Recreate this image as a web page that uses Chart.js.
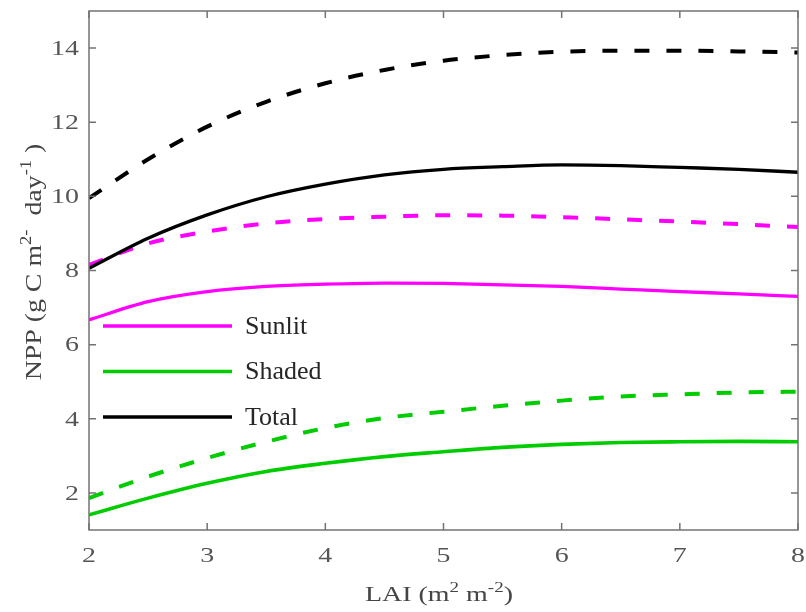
<!DOCTYPE html>
<html><head><meta charset="utf-8">
<script src="https://cdn.jsdelivr.net/npm/chart.js@4.4.1/dist/chart.umd.min.js"></script>
<style>html,body{margin:0;padding:0;background:#fff}#wrap{width:806px;height:612px;position:relative}</style>
</head><body><div id="wrap"><canvas id="c" width="806" height="612"></canvas></div>
<script>
const lai = [2, 2.5, 3, 3.5, 4, 4.5, 5, 5.5, 6, 6.5, 7, 7.5, 8];
const sunlitSolid  = [6.67, 7.16, 7.43, 7.57, 7.63, 7.66, 7.65, 7.61, 7.57, 7.50, 7.43, 7.37, 7.30];
const sunlitDashed = [8.15, 8.73, 9.05, 9.27, 9.39, 9.45, 9.49, 9.48, 9.44, 9.38, 9.32, 9.25, 9.17];
const shadedSolid  = [1.41, 1.86, 2.26, 2.58, 2.80, 2.98, 3.11, 3.23, 3.31, 3.36, 3.38, 3.39, 3.38];
const shadedDashed = [1.86, 2.44, 2.94, 3.38, 3.75, 4.02, 4.19, 4.35, 4.49, 4.60, 4.66, 4.71, 4.73];
const totalSolid   = [8.06, 8.87, 9.50, 9.99, 10.33, 10.58, 10.73, 10.80, 10.85, 10.83, 10.78, 10.73, 10.65];
const totalDashed  = [9.95, 11.00, 11.88, 12.55, 13.05, 13.41, 13.66, 13.81, 13.90, 13.93, 13.93, 13.91, 13.88];
const xTicks = [2, 3, 4, 5, 6, 7, 8];
const yTicks = [2, 4, 6, 8, 10, 12, 14];
const legendLabels = ['Sunlit', 'Shaded', 'Total'];

const MAG = '#ff00ff', GRN = '#00cc00', BLK = '#000000';
const SERIF = '"Liberation Serif", "Times New Roman", serif';
const SX = 1.27; // horizontal widening of the axis text, as in the reference
function pts(ys) { return lai.map((x, i) => ({ x: x, y: ys[i] })); }

const DASH = [15, 17];
const datasets = [
  { label: legendLabels[0], data: pts(sunlitSolid), borderColor: MAG, borderWidth: 3.3 },
  { label: legendLabels[1], data: pts(shadedSolid), borderColor: GRN, borderWidth: 3.6 },
  { label: legendLabels[2], data: pts(totalSolid), borderColor: BLK, borderWidth: 3.3 },
  { label: legendLabels[0] + ' (dashed)', data: pts(sunlitDashed), borderColor: MAG, borderWidth: 4, borderDash: DASH },
  { label: legendLabels[1] + ' (dashed)', data: pts(shadedDashed), borderColor: GRN, borderWidth: 4, borderDash: DASH },
  { label: legendLabels[2] + ' (dashed)', data: pts(totalDashed), borderColor: BLK, borderWidth: 4, borderDash: DASH }
];

function drawRich(ctx, segs, cx, baseY, sx) {
  let total = 0;
  segs.forEach(s => { ctx.font = s.size + 'px ' + SERIF; s.w = ctx.measureText(s.t).width * sx; total += s.w; });
  let xx = cx - total / 2;
  segs.forEach(s => {
    ctx.font = s.size + 'px ' + SERIF;
    ctx.save();
    ctx.translate(xx, baseY - (s.rise || 0));
    ctx.scale(sx, 1);
    ctx.fillText(s.t, 0, 0);
    ctx.restore();
    xx += s.w;
  });
}
function drawWide(ctx, text, x, y, align, sx) {
  ctx.save();
  ctx.translate(x, y);
  ctx.scale(sx, 1);
  ctx.textAlign = align;
  ctx.fillText(text, 0, 0);
  ctx.restore();
}

const framePlugin = {
  id: 'frame',
  afterDraw(chart) {
    const ctx = chart.ctx, a = chart.chartArea, xs = chart.scales.x, ys = chart.scales.y;
    ctx.save();
    ctx.setLineDash([]);
    ctx.strokeStyle = '#737373';
    ctx.lineWidth = 1.5;
    ctx.strokeRect(a.left, a.top, a.right - a.left, a.bottom - a.top);
    const L = 7;
    ctx.beginPath();
    xTicks.forEach(v => {
      const px = xs.getPixelForValue(v);
      ctx.moveTo(px, a.bottom); ctx.lineTo(px, a.bottom - L);
      ctx.moveTo(px, a.top); ctx.lineTo(px, a.top + L);
    });
    yTicks.forEach(v => {
      const py = ys.getPixelForValue(v);
      ctx.moveTo(a.left, py); ctx.lineTo(a.left + L, py);
      ctx.moveTo(a.right, py); ctx.lineTo(a.right - L, py);
    });
    ctx.stroke();

    // tick labels, placed by the scales
    ctx.fillStyle = '#555555';
    ctx.font = '22px ' + SERIF;
    ctx.textBaseline = 'middle';
    xTicks.forEach(v => drawWide(ctx, String(v), xs.getPixelForValue(v), a.bottom + 26, 'center', SX));
    yTicks.forEach(v => drawWide(ctx, String(v), a.left - 10, ys.getPixelForValue(v) + 1, 'right', SX));

    // legend (inside plot, lower-left)
    const lx0 = a.left + 14, lx1 = a.left + 143, tx = a.left + 156;
    const rowTop = a.top + 315, rowGap = 45.5;
    ctx.textAlign = 'left';
    ctx.textBaseline = 'middle';
    ctx.font = '26px ' + SERIF;
    for (let i = 0; i < 3; i++) {
      const ds = chart.data.datasets[i];
      const yy = rowTop + i * rowGap;
      ctx.beginPath();
      ctx.strokeStyle = ds.borderColor;
      ctx.lineWidth = 3.6;
      ctx.moveTo(lx0, yy); ctx.lineTo(lx1, yy);
      ctx.stroke();
      ctx.fillStyle = '#262626';
      ctx.fillText(ds.label, tx, yy + 1);
    }

    // x title
    ctx.fillStyle = '#444444';
    ctx.textBaseline = 'alphabetic';
    ctx.textAlign = 'left';
    drawRich(ctx, [
      { t: 'LAI (m', size: 22 },
      { t: '2', size: 15, rise: 9 },
      { t: ' m', size: 22 },
      { t: '-2', size: 15, rise: 9 },
      { t: ')', size: 22 }
    ], 439, 601, SX);

    // y title
    ctx.save();
    ctx.translate(40.5, 262);
    ctx.rotate(-Math.PI / 2);
    drawRich(ctx, [
      { t: 'NPP (g C m', size: 24 },
      { t: '2-', size: 16, rise: 10 },
      { t: '  day', size: 24 },
      { t: '-1', size: 16, rise: 10 },
      { t: ' )', size: 24 }
    ], 0, 0, 1.16);
    ctx.restore();
    ctx.restore();
  }
};

new Chart(document.getElementById('c'), {
  type: 'line',
  data: { datasets: datasets },
  options: {
    responsive: false,
    animation: false,
    layout: { padding: { top: 11, right: 8, left: 0, bottom: 0 } },
    elements: { point: { radius: 0 }, line: { tension: 0.4, cubicInterpolationMode: 'monotone', fill: false } },
    plugins: { legend: { display: false }, tooltip: { enabled: false } },
    scales: {
      x: {
        type: 'linear', min: 2, max: 8,
        afterBuildTicks: s => { s.ticks = xTicks.map(v => ({ value: v })); },
        afterFit: s => { s.height = 82; s.paddingLeft = 0; s.paddingRight = 0; },
        grid: { display: false }, border: { display: false },
        ticks: { display: false }
      },
      y: {
        type: 'linear', min: 1, max: 15,
        afterBuildTicks: s => { s.ticks = yTicks.map(v => ({ value: v })); },
        afterFit: s => { s.width = 89; s.paddingTop = 0; s.paddingBottom = 0; },
        grid: { display: false }, border: { display: false },
        ticks: { display: false }
      }
    }
  },
  plugins: [framePlugin]
});
</script>
</body></html>
